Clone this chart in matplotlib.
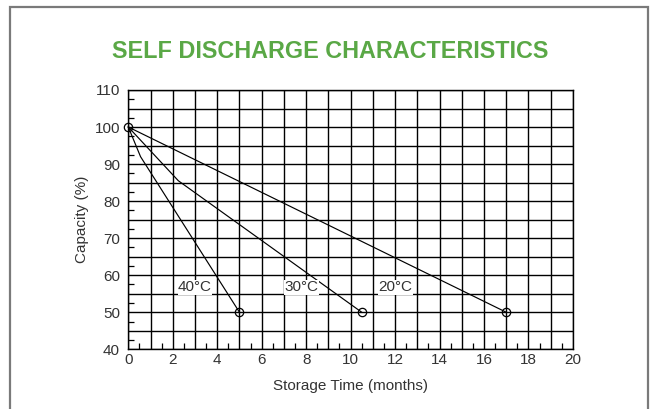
import matplotlib
matplotlib.use("Agg")
import matplotlib.pyplot as plt
from matplotlib.patches import Rectangle
from matplotlib.ticker import MultipleLocator

plt.rcParams['font.family'] = ['Liberation Sans', 'DejaVu Sans']

# datos
t40 = [0, 0.55, 5.0]
c40 = [100, 92, 50]
t30 = [0, 2.25, 10.5]
c30 = [100, 85.5, 50]
t20 = [0, 17.0]
c20 = [100, 50]

labels = ["40°C", "30°C", "20°C"]
label_x = [3.0, 7.8, 12.0]
label_y = [56.8, 56.8, 56.8]

xticks = list(range(0, 21, 2))
yticks = list(range(40, 111, 10))

fig = plt.figure(figsize=(6.5, 4.09), dpi=100)
ax = fig.add_axes([0.1974, 0.146, 0.684, 0.634])

# marco gris
fig.patches.append(Rectangle((9.5 / 650, -0.05), (648 - 9.5) / 650, 1 - 7.5 / 409 + 0.05,
                             transform=fig.transFigure, fill=False,
                             edgecolor="#7a7a7a", linewidth=1.6))

fig.text(0.508, 0.873, "SELF DISCHARGE CHARACTERISTICS", ha="center", va="center",
         fontsize=16.8, fontweight="bold", color="#5aa846")

ax.set_xlim(0, 20)
ax.set_ylim(40, 110)

# rejilla cada 1 mes y cada 5 %
ax.set_xticks(list(range(0, 21)))
ax.set_xticklabels([str(x) if x in xticks else "" for x in range(0, 21)])
ax.set_yticks(list(range(40, 111, 5)))
ax.set_yticklabels([str(y) if y in yticks else "" for y in range(40, 111, 5)])
ax.grid(True, which="major", color="black", linewidth=1.0)
ax.set_axisbelow(True)

ax.xaxis.set_minor_locator(MultipleLocator(0.5))
ax.yaxis.set_minor_locator(MultipleLocator(2.5))
ax.tick_params(which="major", length=0, labelsize=11, labelcolor="#333333")
ax.tick_params(axis="x", which="major", pad=3)
ax.tick_params(axis="y", which="major", pad=6)
ax.tick_params(which="minor", direction="in", length=4, width=0.9, color="black")
ax.tick_params(axis="x", which="minor", top=False)
ax.tick_params(axis="y", which="minor", right=False)

for s in ax.spines.values():
    s.set_linewidth(1.0)

for t, c in [(t40, c40), (t30, c30), (t20, c20)]:
    ax.plot(t, c, color="black", linewidth=0.85, marker="o", markevery=[len(t) - 1],
            markersize=6, markerfacecolor="none", markeredgecolor="black",
            markeredgewidth=0.9, clip_on=False, zorder=3)
ax.plot([t20[0]], [c20[0]], marker="o", markersize=6, markerfacecolor="none",
        markeredgecolor="black", markeredgewidth=0.9, clip_on=False, zorder=4)

for lab, x, y in zip(labels, label_x, label_y):
    ax.text(x, y, lab, ha="center", va="center", fontsize=11, color="#333333",
            bbox=dict(facecolor="white", edgecolor="none", pad=0.3))

ax.set_xlabel("Storage Time (months)", fontsize=11, color="#333333", labelpad=8)
ax.set_ylabel("Capacity (%)", fontsize=11, color="#333333", labelpad=4)

fig.savefig("out.png", dpi=100)
